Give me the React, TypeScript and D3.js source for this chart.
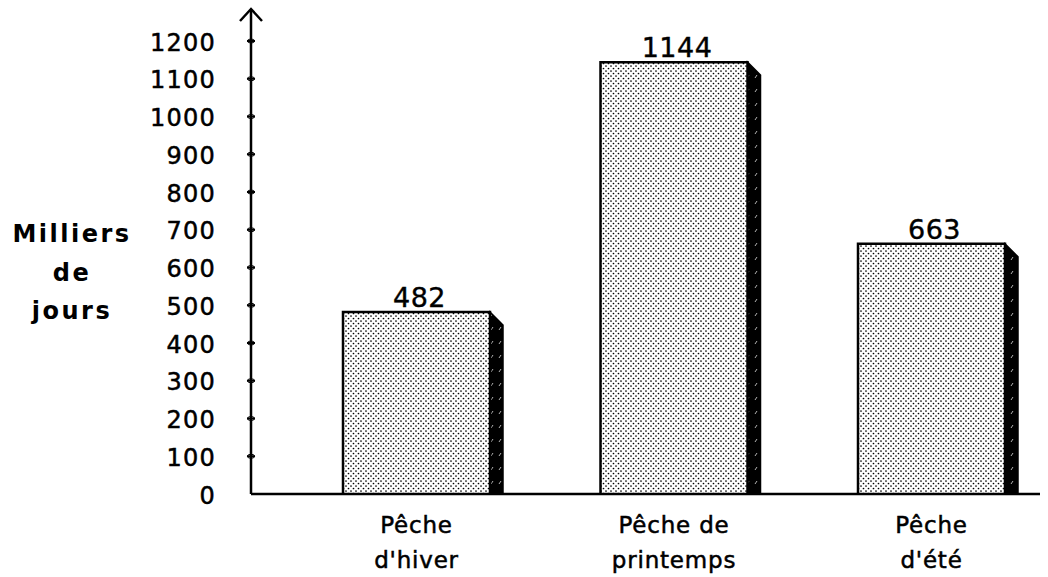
import * as d3 from "d3";

const categories = ["hiver", "printemps", "ete"];
const values = [482, 1144, 663];
const labelLines = [
  ["Pêche", "d'hiver"],
  ["Pêche de", "printemps"],
  ["Pêche", "d'été"],
];
const yTicks = [0, 100, 200, 300, 400, 500, 600, 700, 800, 900, 1000, 1100, 1200];
const yTitle = ["Milliers", "de", "jours"];

const W = 1048;
const H = 577;
const axisX = 251;
const baseY = 494;
const barW = 147;
const depth = 13;

export default function App() {
  const y = d3.scaleLinear().domain([0, 1200]).range([baseY, 41]);
  const x = d3.scalePoint<string>().domain(categories).range([416.5, 931.5]);
  const font = "'DejaVu Sans', sans-serif";

  return (
    <div style={{ position: "fixed", left: 0, top: 0 }}>
      <svg width={W} height={H} style={{ display: "block", background: "#fff" }}>
        <defs>
          <pattern id="dots" width="5" height="5" patternUnits="userSpaceOnUse">
            <rect width="5" height="5" fill="#fff" />
            <circle cx="1" cy="1" r="0.85" fill="#000" />
            <circle cx="3.5" cy="3.5" r="0.85" fill="#000" />
          </pattern>
          <pattern id="shade" width="8" height="14" patternUnits="userSpaceOnUse">
            <rect width="8" height="14" fill="#000" />
            <line x1="3" y1="8" x2="5" y2="5" stroke="#fff" strokeWidth="0.7" />
          </pattern>
        </defs>

        {/* bars */}
        {categories.map((c, i) => {
          const cx = x(c)!;
          const x0 = cx - barW / 2;
          const x1 = cx + barW / 2;
          const top = y(values[i]);
          return (
            <g key={c}>
              <polygon
                points={`${x1},${top} ${x1 + depth},${top + depth} ${x1 + depth},${baseY} ${x1},${baseY}`}
                fill="url(#shade)"
                stroke="#000"
                strokeWidth={1.5}
              />
              <rect x={x0} y={top} width={barW} height={baseY - top} fill="url(#dots)" />
              <path
                d={`M${x0},${baseY} V${top} H${x1} V${baseY}`}
                fill="none"
                stroke="#000"
                strokeWidth={2.5}
              />
              <text
                x={cx + 3}
                y={top - 5}
                textAnchor="middle"
                fontFamily={font}
                fontSize={27}
                letterSpacing={0.5}
                fill="#000"
                stroke="#000"
                strokeWidth={0.4}
              >
                {values[i]}
              </text>
              {labelLines[i].map((t, j) => (
                <text
                  key={j}
                  x={cx}
                  y={533 + j * 35}
                  textAnchor="middle"
                  fontFamily={font}
                  fontSize={23}
                  letterSpacing={0.8}
                  fill="#000"
                  stroke="#000"
                  strokeWidth={0.5}
                >
                  {t}
                </text>
              ))}
            </g>
          );
        })}

        {/* y axis */}
        <line x1={axisX} y1={10} x2={axisX} y2={baseY} stroke="#000" strokeWidth={2.5} />
        <path
          d={`M${axisX - 11},${21} L${axisX},${9} L${axisX + 11},${21}`}
          fill="none"
          stroke="#000"
          strokeWidth={2.5}
        />
        {yTicks.map((t) => (
          <g key={t}>
            {t > 0 && (
              <>
                <line x1={axisX - 4} x2={axisX + 4} y1={y(t)} y2={y(t)} stroke="#000" strokeWidth={2} />
                <ellipse cx={axisX} cy={y(t)} rx={3.5} ry={2} fill="none" stroke="#000" strokeWidth={1} />
              </>
            )}
            <text
              x={216}
              y={y(t) + 9.5}
              textAnchor="end"
              fontFamily={font}
              fontSize={24}
              letterSpacing={1.2}
              fill="#000"
              stroke="#000"
              strokeWidth={0.5}
            >
              {t}
            </text>
          </g>
        ))}

        {/* x axis */}
        <line x1={axisX} y1={baseY} x2={1040} y2={baseY} stroke="#000" strokeWidth={2.5} />

        {/* y title */}
        {yTitle.map((t, i) => (
          <text
            key={t}
            x={72}
            y={242 + i * 38.5}
            textAnchor="middle"
            fontFamily={font}
            fontWeight="bold"
            fontSize={24}
            letterSpacing={2.5}
            fill="#000"
          >
            {t}
          </text>
        ))}
      </svg>
    </div>
  );
}
